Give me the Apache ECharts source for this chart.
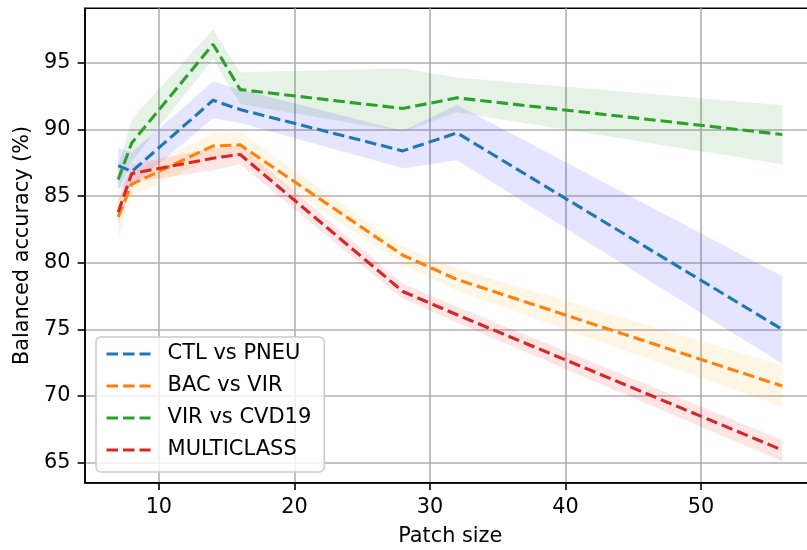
<!DOCTYPE html>
<html>
<head>
<meta charset="utf-8">
<script src="https://cdn.jsdelivr.net/npm/echarts@6/dist/echarts.min.js"></script>
<style>
  html, body { margin: 0; padding: 0; background: #fff; }
  #chart { width: 807px; height: 550px; }
</style>
</head>
<body>
<div id="chart"></div>
<script>
// ---- data ----
const patchSize = [7, 8, 14, 16, 28, 32, 56];
const xTicks = [10, 20, 30, 40, 50];
const yTicks = [65, 70, 75, 80, 85, 90, 95];

const seriesNames = ['CTL vs PNEU', 'BAC vs VIR', 'VIR vs CVD19', 'MULTICLASS'];

const ctlMean  = [87.3, 86.85, 92.2, 91.5, 88.4, 89.75, 75.0];
const ctlLow   = [85.6, 85.7, 90.85, 90.5, 87.1, 87.7, 72.4];
const ctlHigh  = [88.6, 88.3, 93.6, 93.0, 89.9, 91.85, 79.0];

const bacMean  = [83.45, 85.9, 88.77, 88.85, 80.57, 78.75, 70.75];
const bacLow   = [81.8, 85.0, 87.9, 88.0, 79.9, 77.9, 69.2];
const bacHigh  = [85.0, 86.8, 89.7, 89.8, 81.2, 79.6, 72.3];

const virMean  = [86.25, 89.0, 96.4, 93.0, 91.58, 92.38, 89.63];
const virLow   = [85.5, 87.6, 95.3, 91.9, 89.83, 91.3, 87.4];
const virHigh  = [87.2, 90.8, 97.5, 94.3, 94.58, 93.9, 91.83];

const mcMean   = [83.8, 86.7, 87.85, 88.13, 77.85, 76.1, 65.95];
const mcLow    = [82.8, 86.0, 86.95, 87.4, 77.3, 75.5, 65.1];
const mcHigh   = [84.7, 87.4, 88.6, 88.8, 78.45, 76.7, 66.7];

// ---- styling ----
const lineColors = ['#1f77b4', '#ff7f0e', '#2ca02c', '#d62728'];
const bandColors = ['rgba(0,0,255,0.1)', 'rgba(255,165,0,0.1)', 'rgba(0,128,0,0.1)', 'rgba(255,0,0,0.1)'];
const FONT = 'DejaVu Sans';
const FS = 20.8;
const DASH = [11.5, 5];

const groups = [
  [ctlMean, ctlLow, ctlHigh],
  [bacMean, bacLow, bacHigh],
  [virMean, virLow, virHigh],
  [mcMean, mcLow, mcHigh]
];

const series = [];
groups.forEach((g, k) => {
  const [mean, low, high] = g;
  series.push({
    type: 'custom', name: '_band' + k, silent: true, z: 1,
    data: patchSize.map((x, i) => [x, low[i], high[i]]),
    encode: { x: 0, y: [1, 2] },
    renderItem: function (params, api) {
      if (params.dataIndex !== 0) return null;
      const pts = [];
      for (let i = 0; i < patchSize.length; i++) pts.push(api.coord([patchSize[i], high[i]]));
      for (let i = patchSize.length - 1; i >= 0; i--) pts.push(api.coord([patchSize[i], low[i]]));
      return { type: 'polygon', shape: { points: pts }, style: { fill: bandColors[k] } };
    }
  });
});
groups.forEach((g, k) => {
  series.push({
    type: 'line', name: seriesNames[k], data: patchSize.map((x, i) => [x, g[0][i]]),
    symbol: 'none', z: 5,
    itemStyle: { color: lineColors[k] },
    lineStyle: { color: lineColors[k], width: 3.1, type: DASH, cap: 'butt' }
  });
});

const chart = echarts.init(document.getElementById('chart'), null, { renderer: 'canvas' });
chart.setOption({
  animation: false,
  backgroundColor: '#ffffff',
  grid: {
    left: 85, top: 8.3, width: 730.5, height: 474.4,
    containLabel: false,
    outerBoundsMode: 'none',
    show: true, borderColor: '#000', borderWidth: 1.6, backgroundColor: 'transparent'
  },
  legend: {
    data: seriesNames,
    left: 96, top: 337,
    orient: 'vertical',
    itemWidth: 44, itemHeight: 14, itemGap: 8,
    padding: [5, 13, 10, 9],
    backgroundColor: 'rgba(255,255,255,0.8)',
    borderColor: '#cccccc', borderWidth: 1.6, borderRadius: 5,
    itemStyle: { opacity: 0 },
    lineStyle: { width: 3.1, type: DASH },
    textStyle: { fontFamily: FONT, fontSize: 21, color: '#000', lineHeight: 24, padding: [0, 0, 0, 12] }
  },
  xAxis: {
    type: 'value', min: 4.55, max: 58.45,
    name: 'Patch size', nameLocation: 'middle', nameGap: 43,
    nameTextStyle: { fontFamily: FONT, fontSize: FS, color: '#000' },
    axisLine: { show: true, onZero: false, lineStyle: { color: '#000', width: 1.6 } },
    axisTick: { show: true, inside: false, length: 7.3, customValues: xTicks, lineStyle: { color: '#000', width: 1.6 } },
    axisLabel: { customValues: xTicks, margin: 14.6, fontFamily: FONT, fontSize: FS, color: '#000' },
    splitLine: { show: true, lineStyle: { color: '#b0b0b0', width: 1.6 } }
  },
  yAxis: {
    type: 'value', min: 63.5, max: 99.1,
    name: 'Balanced accuracy (%)', nameLocation: 'middle', nameGap: 49,
    nameTextStyle: { fontFamily: FONT, fontSize: FS, color: '#000' },
    axisLine: { show: true, onZero: false, lineStyle: { color: '#000', width: 1.6 } },
    axisTick: { show: true, inside: false, length: 7.3, customValues: yTicks, lineStyle: { color: '#000', width: 1.6 } },
    axisLabel: { customValues: yTicks, margin: 14.6, fontFamily: FONT, fontSize: FS, color: '#000' },
    splitLine: { show: true, lineStyle: { color: '#b0b0b0', width: 1.6 } }
  },
  series: series
});
</script>
</body>
</html>
